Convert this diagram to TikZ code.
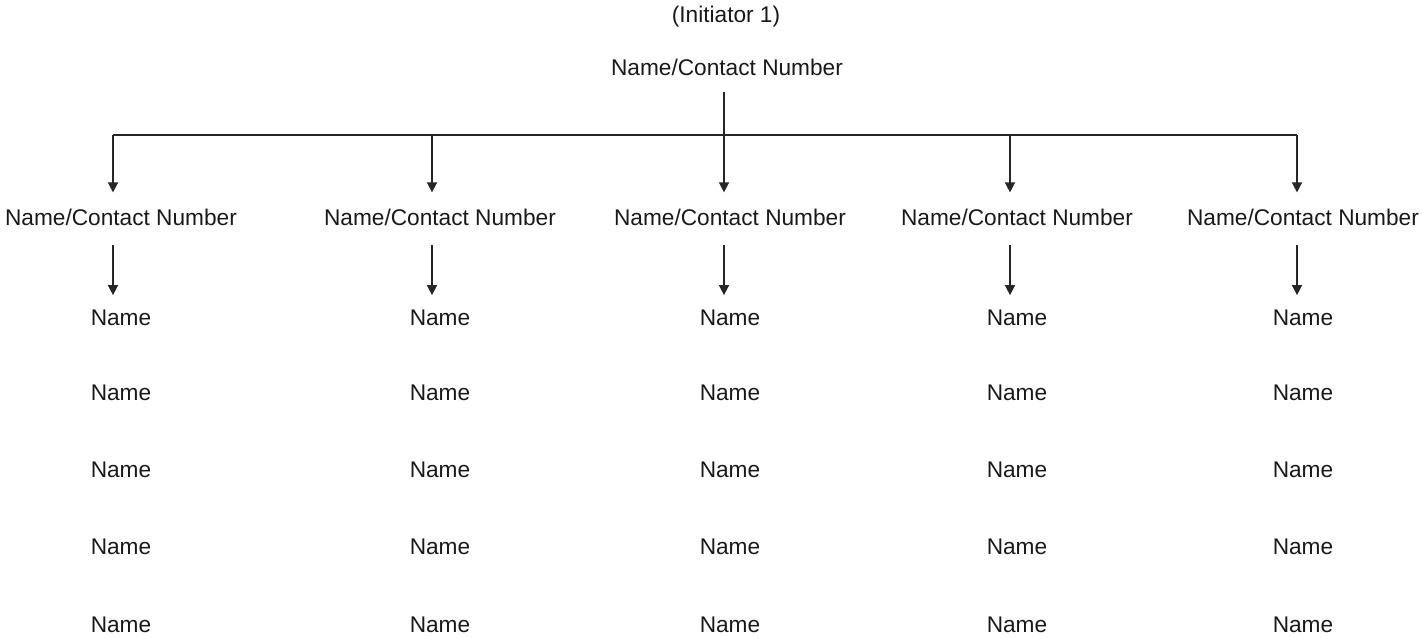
\documentclass[tikz,border=0pt]{standalone}
\usepackage{fontspec}
\setmainfont{Liberation Sans}
\usetikzlibrary{arrows.meta}
\begin{document}
\begin{tikzpicture}[x=0.75pt,y=-0.75pt,
  lbl/.style={inner sep=0pt,font=\fontsize{17}{20}\selectfont,text=black!90},
  conn/.style={line width=1.1pt,black!85},
  arr/.style={conn,-{Triangle[width=7.5pt,length=7.5pt]}}]
\useasboundingbox (0,0) rectangle (1422,638);
\node[lbl] (init) at (726,17) {(Initiator 1)};
\node[lbl] (top) at (727,67) {Name/Contact Number};
\foreach \i/\x in {1/121,2/440,3/730,4/1017,5/1303}{
  \node[lbl] (c\i) at (\x,217) {Name/Contact Number};
  \foreach \j/\y in {1/318,2/393,3/470,4/547,5/625}{
    \node[lbl] (n\i\j) at (\x,\y) {Name};
  }
}
\coordinate (hl) at (113,135);
\coordinate (hr) at (1297,135);
\draw[conn] (hl) -- (hr);
\coordinate (tc) at (724,92);
\draw[arr,shorten >=12pt] (tc) -- (tc |- c3.north);
\foreach \i/\x in {1/113,2/432,4/1010,5/1297}{
  \coordinate (t\i) at (\x,135);
  \draw[arr,shorten >=12pt] (t\i) -- (t\i |- c\i.north);
}
\foreach \i/\x in {1/113,2/432,3/724,4/1010,5/1297}{
  \coordinate (s\i) at (\x,245);
  \draw[arr,shorten >=11pt] (s\i) -- (s\i |- n\i1.north);
}
\end{tikzpicture}
\end{document}
